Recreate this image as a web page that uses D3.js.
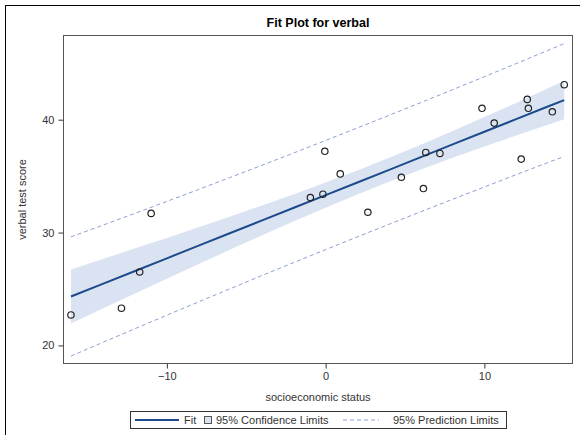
<!DOCTYPE html>
<html>
<head>
<meta charset="utf-8">
<script src="https://cdn.jsdelivr.net/npm/d3@7"></script>
<style>
  html, body { margin: 0; padding: 0; background: #fff; }
  svg { display: block; font-family: "Liberation Sans", Arial, sans-serif; }
</style>
</head>
<body>
<svg id="chart" width="580" height="435"></svg>
<script>
// Observations: socioeconomic status vs verbal test score
const sstatus = [7.20, -11.71, 12.32, 14.28, 6.31, 6.16, 12.70, -0.17, 9.85, -0.05,
                 -12.86, 0.92, 4.77, -0.96, -16.04, 10.62, 2.66, -10.99, 15.03, 12.77];
const verbal  = [37.01, 26.51, 36.51, 40.70, 37.10, 33.90, 41.80, 33.40, 41.01, 37.20,
                 23.30, 35.20, 34.90, 33.10, 22.70, 39.70, 31.80, 31.70, 43.10, 41.01];

// Fitted line with 95% confidence and prediction limits along the data range
const gridX   = [-16.04, -14, -12, -10, -8, -6, -4, -2, 0, 2, 4, 6, 8, 10, 12, 14, 15.03];
const fitY    = [24.34, 25.48, 26.60, 27.72, 28.84, 29.96, 31.08, 32.20, 33.32, 34.44, 35.56, 36.69, 37.81, 38.93, 40.05, 41.17, 41.74];
const clLower = [21.94, 23.29, 24.60, 25.91, 27.21, 28.49, 29.76, 31.00, 32.21, 33.38, 34.51, 35.59, 36.62, 37.62, 38.60, 39.56, 40.05];
const clUpper = [26.73, 27.67, 28.60, 29.53, 30.47, 31.43, 32.40, 33.40, 34.43, 35.50, 36.62, 37.79, 38.99, 40.23, 41.49, 42.78, 43.44];
const plLower = [19.06, 20.29, 21.49, 22.68, 23.86, 25.03, 26.20, 27.35, 28.49, 29.62, 30.74, 31.85, 32.95, 34.04, 35.13, 36.20, 36.74];
const plUpper = [29.62, 30.67, 31.71, 32.76, 33.82, 34.89, 35.97, 37.06, 38.16, 39.27, 40.39, 41.52, 42.66, 43.81, 44.97, 46.14, 46.75];

const xTicks = [-10, 0, 10];
const yTicks = [20, 30, 40];

const titleText = "Fit Plot for verbal";
const xLabel = "socioeconomic status";
const yLabel = "verbal test score";

const svg = d3.select("#chart");

const plot = { left: 63.5, right: 572.5, top: 35.5, bottom: 363.5 };

const x = d3.scaleLinear().domain([-16.51, 15.55]).range([plot.left, plot.right]);
const y = d3.scaleLinear().domain([18.4, 47.46]).range([plot.bottom, plot.top]);

// outer frame
svg.append("rect")
  .attr("x", 5.5).attr("y", 5.5)
  .attr("width", 600).attr("height", 460)
  .attr("fill", "none").attr("stroke", "#000").attr("stroke-width", 1);

// title
svg.append("text")
  .attr("x", (plot.left + plot.right) / 2).attr("y", 27)
  .attr("text-anchor", "middle")
  .attr("font-size", 12.5).attr("font-weight", "bold").attr("fill", "#000")
  .text(titleText);

const rows = gridX.map((gx, i) => ({ x: gx, fit: fitY[i], cl0: clLower[i], cl1: clUpper[i], pl0: plLower[i], pl1: plUpper[i] }));

svg.append("defs").append("clipPath").attr("id", "plotclip")
  .append("rect")
  .attr("x", plot.left).attr("y", plot.top)
  .attr("width", plot.right - plot.left).attr("height", plot.bottom - plot.top);

const g = svg.append("g").attr("clip-path", "url(#plotclip)");

// confidence band
g.append("path")
  .datum(rows)
  .attr("fill", "#dae3f1")
  .attr("stroke", "none")
  .attr("d", d3.area().x(d => x(d.x)).y0(d => y(d.cl0)).y1(d => y(d.cl1)));

// prediction limits
["pl0", "pl1"].forEach(k => {
  g.append("path")
    .datum(rows)
    .attr("fill", "none")
    .attr("stroke", "#8d9fcf")
    .attr("stroke-width", 1)
    .attr("stroke-dasharray", "4,3")
    .attr("d", d3.line().x(d => x(d.x)).y(d => y(d[k])));
});

// fit line
g.append("path")
  .datum(rows)
  .attr("fill", "none")
  .attr("stroke", "#1d4a8c")
  .attr("stroke-width", 2)
  .attr("d", d3.line().x(d => x(d.x)).y(d => y(d.fit)));

// observations
g.selectAll("circle.obs")
  .data(sstatus.map((s, i) => ({ s, v: verbal[i] })))
  .enter().append("circle")
  .attr("class", "obs")
  .attr("cx", d => x(d.s)).attr("cy", d => y(d.v))
  .attr("r", 3.2)
  .attr("fill", "none")
  .attr("stroke", "#222")
  .attr("stroke-width", 1.2);

// axes
const xAxis = svg.append("g")
  .attr("transform", `translate(0,${plot.bottom})`)
  .call(d3.axisBottom(x).tickValues(xTicks).tickSize(5).tickPadding(4).tickFormat(d3.format("d")));
const yAxis = svg.append("g")
  .attr("transform", `translate(${plot.left},0)`)
  .call(d3.axisLeft(y).tickValues(yTicks).tickSize(5).tickPadding(4).tickFormat(d3.format("d")));

[xAxis, yAxis].forEach(a => {
  a.select(".domain").remove();
  a.selectAll(".tick line").attr("stroke", "#333");
  a.selectAll(".tick text")
    .attr("fill", "#333")
    .attr("font-size", 11)
    .attr("font-family", "'Liberation Sans', Arial, sans-serif");
});

// plot frame
svg.append("rect")
  .attr("x", plot.left).attr("y", plot.top)
  .attr("width", plot.right - plot.left).attr("height", plot.bottom - plot.top)
  .attr("fill", "none").attr("stroke", "#555").attr("stroke-width", 1);

// axis labels
svg.append("text")
  .attr("x", (plot.left + plot.right) / 2).attr("y", 401)
  .attr("text-anchor", "middle")
  .attr("font-size", 11).attr("fill", "#333")
  .text(xLabel);

svg.append("text")
  .attr("transform", `translate(26,${(plot.top + plot.bottom) / 2}) rotate(-90)`)
  .attr("text-anchor", "middle")
  .attr("font-size", 11).attr("fill", "#333")
  .text(yLabel);

// legend
const lg = svg.append("g");
lg.append("rect")
  .attr("x", 130.5).attr("y", 411.5).attr("width", 376).attr("height", 17)
  .attr("fill", "#fff").attr("stroke", "#333").attr("stroke-width", 1);
const ly = 420;
lg.append("line")
  .attr("x1", 135).attr("x2", 179).attr("y1", ly).attr("y2", ly)
  .attr("stroke", "#1d4a8c").attr("stroke-width", 2);
lg.append("text").attr("x", 184).attr("y", ly + 4)
  .attr("font-size", 11).attr("fill", "#333").text("Fit");
lg.append("rect")
  .attr("x", 204.5).attr("y", ly - 3.5).attr("width", 7).attr("height", 7)
  .attr("fill", "#dae3f1").attr("stroke", "#555").attr("stroke-width", 1);
lg.append("text").attr("x", 216).attr("y", ly + 4)
  .attr("font-size", 11).attr("fill", "#333").text("95% Confidence Limits");
lg.append("line")
  .attr("x1", 343).attr("x2", 379).attr("y1", ly).attr("y2", ly)
  .attr("stroke", "#8d9fcf").attr("stroke-width", 1).attr("stroke-dasharray", "4,3");
lg.append("text").attr("x", 393).attr("y", ly + 4)
  .attr("font-size", 11).attr("fill", "#333").text("95% Prediction Limits");
</script>
</body>
</html>
